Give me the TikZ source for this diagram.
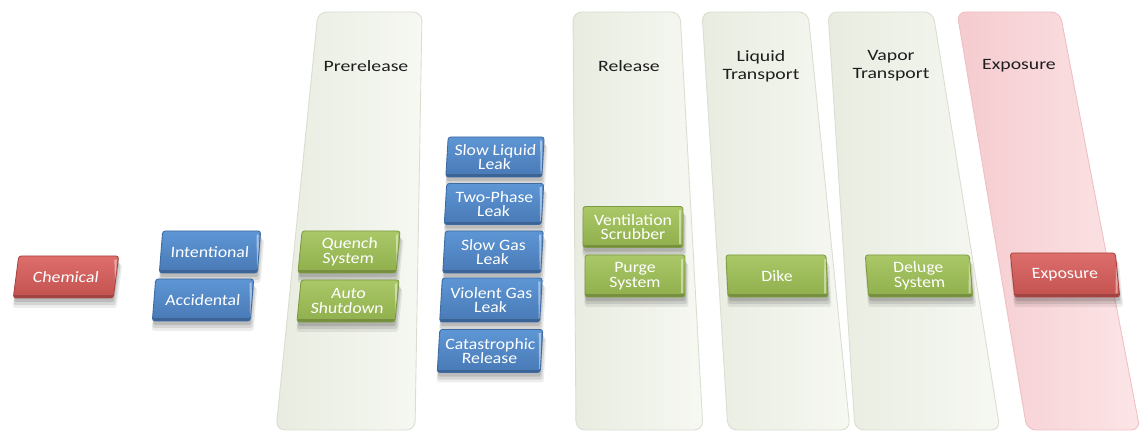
\documentclass[tikz,border=0pt]{standalone}
\usepackage{fontspec}
\newfontfamily\btnfont[FakeStretch=1.12]{Carlito}
\newfontfamily\titlefont[FakeStretch=1.25]{Carlito}
\usetikzlibrary{shadows}

\definecolor{panelL}{HTML}{E8ECE0}
\definecolor{panelR}{HTML}{F6F8F2}
\definecolor{panelEdge}{HTML}{D9DED1}
\definecolor{pinkL}{HTML}{F5CBCF}
\definecolor{pinkR}{HTML}{FCE5E7}
\definecolor{pinkEdge}{HTML}{EEC0C4}
\definecolor{blueTop}{HTML}{5E96D5}
\definecolor{blueBot}{HTML}{4879B5}
\definecolor{blueEdge}{HTML}{3D6BA2}
\definecolor{greenTop}{HTML}{AAC867}
\definecolor{greenBot}{HTML}{8FAE4C}
\definecolor{greenEdge}{HTML}{7E9B41}
\definecolor{redTop}{HTML}{DD6E6B}
\definecolor{redBot}{HTML}{C3524F}
\definecolor{redEdge}{HTML}{A94441}
\definecolor{titleGray}{HTML}{1E1E1E}

\tikzset{
  panel/.style={left color=panelL, right color=panelR, draw=panelEdge, line width=0.5pt, rounded corners=5pt},
  pinkpanel/.style={panel, left color=pinkL, right color=pinkR, draw=pinkEdge},
  ttl/.style={font=\titlefont\fontsize{9}{10.2}\selectfont, text=titleGray, align=center},
  softshadow/.style={
    general shadow={fill=black, opacity=0.07, shadow xshift=0.8pt, shadow yshift=-5pt, shadow scale=1.04},
    general shadow={fill=black, opacity=0.10, shadow xshift=0.6pt, shadow yshift=-3.8pt, shadow scale=1.02},
    general shadow={fill=black, opacity=0.12, shadow xshift=0.4pt, shadow yshift=-2.4pt}},
  btn/.style={rectangle, rounded corners=1.5pt, minimum width=2cm, minimum height=0.84cm,
    inner sep=1pt, align=center, text=white, line width=0.5pt,
    font=\btnfont\fontsize{9}{8.4}\selectfont, softshadow,
    path picture={
      \draw[white, opacity=0.45, line width=1.2pt]
        ([xshift=-1.6pt, yshift=-2pt]path picture bounding box.north east) --
        ([xshift=-1.6pt, yshift=2pt]path picture bounding box.south east);
      \draw[black, opacity=0.18, line width=1.4pt]
        ([yshift=0.8pt]path picture bounding box.south west) --
        ([yshift=0.8pt]path picture bounding box.south east);
    }},
  bluebtn/.style={btn, top color=blueTop, bottom color=blueBot, draw=blueEdge},
  greenbtn/.style={btn, top color=greenTop, bottom color=greenBot, draw=greenEdge},
  redbtn/.style={btn, top color=redTop, bottom color=redBot, draw=redEdge}
}

\begin{document}
\begin{tikzpicture}[x=0.02cm, y=-0.02cm]
  \useasboundingbox (0,0) rectangle (1140,431);

  % stage panels
  \foreach \tl/\tr/\br/\bl in {318/422/415/276, 573/680/703/576, 702/808/850/728, 828/933/1000/855}
    \draw[panel] (\tl,12) -- (\tr,12) -- (\br,430) -- (\bl,430) -- cycle;
  \draw[pinkpanel] (957,12) -- (1060,12) -- (1140,430) -- (1027,430) -- cycle;

  % panel titles
  \node[ttl] (tPre) at (366,66) {Prerelease};
  \node[ttl] (tRel) at (629,66) {Release};
  \node[ttl] (tLiq) at (761,66) {Liquid\\Transport};
  \node[ttl] (tVap) at (891,66) {Vapor\\Transport};
  \node[ttl] (tExp) at (1019,66) {Exposure};

  % source and cause
  \node[redbtn, xslant=0.13] (chem) at (66,277) {Chemical};
  \node[bluebtn, xslant=0.08, minimum width=1.96cm] (intent) at (210,252) {Intentional};
  \node[bluebtn, xslant=0.08, minimum width=1.96cm] (accid) at (203,300) {Accidental};

  % prerelease safeguards
  \node[greenbtn, xslant=0.1, minimum width=1.96cm] (quench) at (349,252) {Quench\\System};
  \node[greenbtn, xslant=0.1, minimum width=1.96cm] (auto) at (348,301) {Auto\\Shutdown};

  % release modes
  \node[bluebtn, xslant=0.06, minimum width=1.92cm, minimum height=0.8cm] (slowliq) at (495,157) {Slow Liquid\\Leak};
  \node[bluebtn, xslant=0.06, minimum width=1.94cm, minimum height=0.82cm] (twophase) at (494,204) {Two-Phase\\Leak};
  \node[bluebtn, xslant=0.06, minimum width=1.96cm] (slowgas) at (493,252) {Slow Gas\\Leak};
  \node[bluebtn, xslant=0.06, minimum width=2cm, minimum height=0.88cm] (violent) at (491,300) {Violent Gas\\Leak};
  \node[bluebtn, xslant=0.06, minimum width=2.06cm, minimum height=0.86cm] (catast) at (490,351) {Catastrophic\\Release};

  % mitigation per stage
  \node[greenbtn, minimum height=0.82cm] (vent) at (633,227) {Ventilation\\Scrubber};
  \node[greenbtn] (purge) at (635,276) {Purge\\System};
  \node[greenbtn, xslant=-0.05] (dike) at (777,276) {Dike};
  \node[greenbtn, xslant=-0.08, minimum width=2.08cm] (deluge) at (919,276) {Deluge\\System};
  \node[redbtn, xslant=-0.1, minimum width=2.1cm, minimum height=0.88cm] (expo) at (1065,275) {Exposure};
\end{tikzpicture}
\end{document}
